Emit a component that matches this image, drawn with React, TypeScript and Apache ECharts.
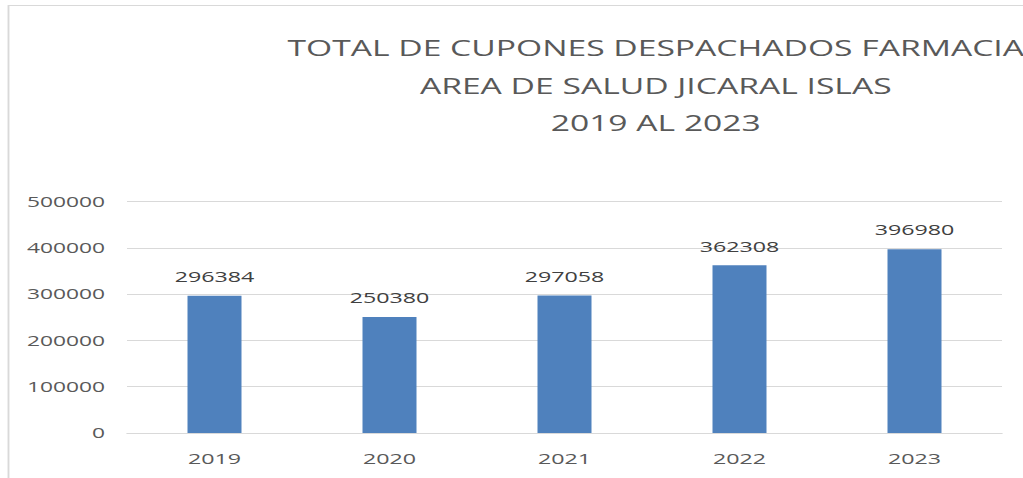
import React, { useEffect, useRef } from "react";
import * as echarts from "echarts";

const categories = ["2019", "2020", "2021", "2022", "2023"];
const cupones = [296384, 250380, 297058, 362308, 396980];
const titleLines = [
  "TOTAL DE CUPONES DESPACHADOS FARMACIA",
  "AREA DE SALUD JICARAL ISLAS",
  "2019 AL 2023",
];

// The reference picture is horizontally stretched; render narrower and stretch.
const STRETCH = 1.55;
const FULL_W = 1023;
const H = 478;
const W = FULL_W / STRETCH;
const sx = (x: number) => x / STRETCH;

export default function App() {
  const ref = useRef<HTMLDivElement>(null);
  useEffect(() => {
    if (!ref.current) return;
    const chart = echarts.init(ref.current, null, { renderer: "svg" });
    chart.setOption({
      animation: false,
      backgroundColor: "#ffffff",
      textStyle: { fontFamily: "Open Sans" },
      graphic: [
        {
          type: "rect",
          shape: { x: sx(8.5), y: 5.5, width: 1200, height: 600 },
          style: { fill: "none", stroke: "#d9d9d9", lineWidth: 1.2 },
          silent: true,
        },
      ],
      title: {
        text: titleLines.join("\n"),
        left: sx(648),
        top: 24,
        textAlign: "center",
        textStyle: {
          fontFamily: "Open Sans",
          fontWeight: "normal",
          fontSize: 21.7,
          lineHeight: 37.5,
          color: "#595959",
        },
      },
      grid: { left: sx(127), right: sx(21), top: 201.5, bottom: 45 },
      xAxis: {
        type: "category",
        data: categories,
        axisLine: { lineStyle: { color: "#d9d9d9" } },
        axisTick: { show: false },
        axisLabel: {
          color: "#595959",
          fontSize: 15,
          margin: 18,
          fontFamily: "Open Sans",
        },
      },
      yAxis: {
        type: "value",
        min: 0,
        max: 500000,
        interval: 100000,
        axisLine: { show: false },
        axisTick: { show: false },
        splitLine: { lineStyle: { color: "#d9d9d9" } },
        axisLabel: {
          color: "#595959",
          fontSize: 14.7,
          margin: sx(22),
          fontFamily: "Open Sans",
          formatter: (v: number) => String(v),
        },
      },
      series: [
        {
          type: "bar",
          data: cupones,
          barWidth: sx(54),
          itemStyle: { color: "#4F81BD" },
          label: {
            show: true,
            position: "top",
            distance: 12,
            color: "#404040",
            fontSize: 15,
            fontFamily: "Open Sans",
          },
        },
      ],
    });
    return () => chart.dispose();
  }, []);
  return (
    <div
      style={{
        position: "fixed",
        left: 0,
        top: 0,
        width: FULL_W,
        height: H,
        overflow: "hidden",
        background: "#ffffff",
      }}
    >
      <div
        ref={ref}
        style={{
          width: W,
          height: H,
          transform: `scaleX(${STRETCH})`,
          transformOrigin: "0 0",
        }}
      />
    </div>
  );
}
